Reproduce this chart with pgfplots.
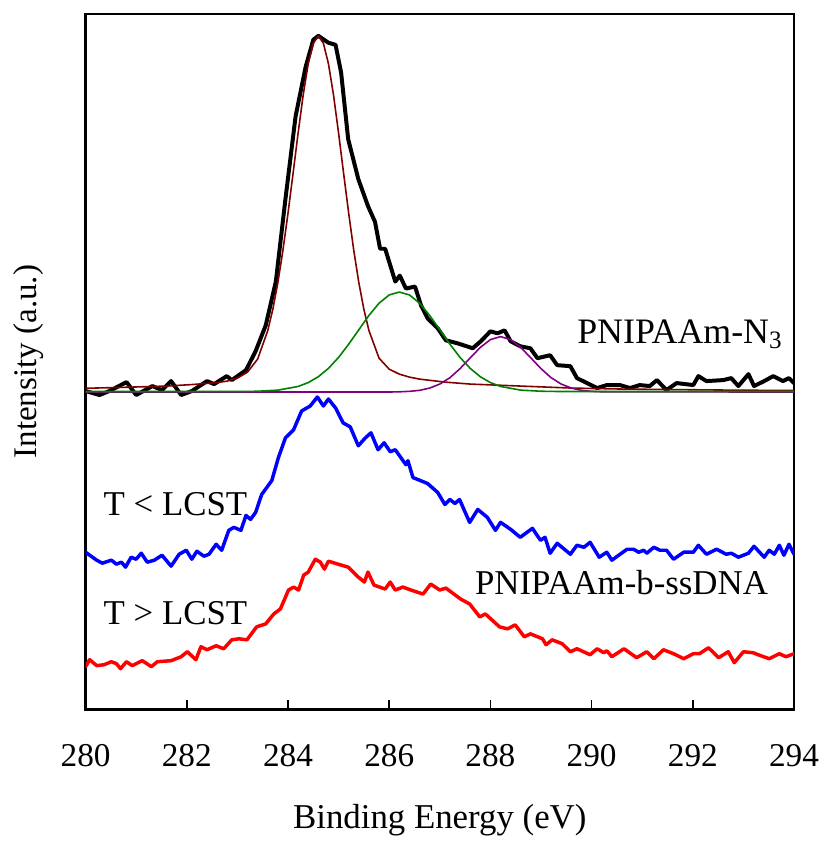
\documentclass[border=0pt]{standalone}
\usepackage{fontspec}
\setmainfont{Liberation Serif}
\usepackage{pgfplots}
\pgfplotsset{compat=1.18}
\definecolor{fitred}{RGB}{128,0,0}
\definecolor{fitgreen}{RGB}{0,128,0}
\definecolor{fitpurple}{RGB}{128,0,128}
\begin{document}
\begin{tikzpicture}
\begin{axis}[
  name=ax,
  scale only axis, width=356pt, height=349.5pt,
  xmin=280, xmax=294, ymin=0, ymax=699,
  xtick={280,282,...,294}, ytick=\empty,
  xtick pos=bottom, tick align=inside, major tick length=5pt,
  every tick/.style={black, line width=0.8pt},
  axis line style={line width=1.4pt},
  every axis plot/.append style={line join=round, line cap=round},
  /pgf/number format/assume math mode=true,
  /pgf/number format/set thousands separator={},
  xticklabel style={font=\fontsize{16.7pt}{20pt}\selectfont, yshift=-14pt},
  xlabel={Binding Energy (eV)},
  xlabel style={font=\fontsize{17.5pt}{21pt}\selectfont, at={(axis description cs:0.5,0)}, anchor=base, yshift=-60pt},
  ylabel={Intensity (a.u.)},
  ylabel style={font=\fontsize{16.6pt}{20pt}\selectfont, at={(axis description cs:0,0.5)}, anchor=base, yshift=24.5pt},
]
% PNIPAAm-N3 measured
\addplot[black, line width=2pt] coordinates {
(280.00,320)(280.275,316)(280.47,320)(280.81,329)(281.00,316)(281.32,325)(281.51,321)(281.69,330)(281.89,316)(282.10,320)(282.40,330)(282.54,327)(282.79,335)(282.89,331)(283.17,341)(283.36,360)(283.56,386)(283.76,430)(283.95,513)(284.15,596)(284.35,646)(284.50,673)(284.60,677)(284.80,670)(284.94,668)(285.05,640)(285.19,573)(285.39,533)(285.58,506)(285.72,490)(285.82,463)(285.92,463)(286.12,430)(286.21,436)(286.33,423)(286.51,425)(286.63,406)(286.76,393)(286.96,383)(287.12,371)(287.35,368)(287.65,363)(287.81,370)(288.00,380)(288.14,378)(288.28,381)(288.40,370)(288.59,365)(288.79,363)(288.93,353)(289.18,356)(289.32,346)(289.58,345)(289.71,333)(289.91,328)(290.11,323)(290.30,326)(290.56,326)(290.76,323)(290.95,326)(291.15,325)(291.29,331)(291.48,321)(291.68,328)(292.01,326)(292.11,335)(292.27,330)(292.60,331)(292.76,333)(292.90,325)(293.10,337)(293.21,325)(293.41,330)(293.59,335)(293.78,330)(293.90,333)(294.00,328)
};
% fitted components
\addplot[fitred, line width=0.8pt] coordinates {
(280.0,322.8)(280.6,323.5)(281.6,325)(282.1,326.5)(282.6,328.5)(282.8,330)(283.0,333)(283.2,339)(283.4,352.1)(283.6,380.7)(283.7,402.1)(283.8,428.9)(283.9,461.4)(284.0,498.5)(284.1,538.5)(284.2,579.2)(284.3,617.4)(284.4,648.8)(284.5,669.5)(284.6,677)(284.7,669.5)(284.8,648.8)(284.9,617.4)(285.0,579.2)(285.1,538.5)(285.2,498.5)(285.3,461.4)(285.4,428.9)(285.5,402.1)(285.6,380.7)(285.8,353)(286.0,342)(286.2,337)(286.4,334)(286.6,332)(287.1,329)(287.6,327)(288.1,326)(288.6,325)(289.6,323)(290.6,322)(292.6,321)(294.0,320.5)
};
\addplot[fitpurple, line width=0.8pt] coordinates {
(280.0,319)(286.0,319)(286.2,319.25)(286.4,319.7)(286.6,320.7)(286.8,323)(287.0,327)(287.2,333.4)(287.4,342.5)(287.6,353.3)(287.8,363.8)(288.0,371.7)(288.2,374.7)(288.4,371.7)(288.6,363.8)(288.8,353.3)(289.0,342.5)(289.2,333.4)(289.4,327)(289.6,323)(289.8,320.7)(290.0,319.7)(290.2,319.25)(294.0,319)
};
\addplot[fitgreen, line width=0.8pt] coordinates {
(280.0,319.5)(283.0,319.5)(283.4,319.8)(283.8,320.9)(284.2,324.6)(284.4,328.5)(284.6,334.4)(284.8,342.8)(285.0,353.8)(285.2,367.1)(285.4,381.6)(285.6,396)(285.8,408.3)(286.0,416.6)(286.2,419.5)(286.4,416.6)(286.6,408.3)(286.8,396)(287.0,381.6)(287.2,367.1)(287.4,353.8)(287.6,342.8)(287.8,334.4)(288.0,328.5)(288.2,324.6)(288.6,320.9)(289.0,319.8)(289.4,319.5)(294.0,319.5)
};
% T < LCST
\addplot[blue, line width=1.75pt] coordinates {
(280.00,158)(280.22,150)(280.33,147)(280.51,150)(280.61,146)(280.71,148)(280.79,143)(280.90,153)(281.00,151)(281.10,157)(281.22,148)(281.36,150)(281.51,155)(281.69,144)(281.85,156)(281.99,160)(282.10,151)(282.20,159)(282.34,154)(282.44,156)(282.58,166)(282.69,160)(282.83,180)(282.93,183)(283.07,180)(283.17,195)(283.26,191)(283.36,198)(283.48,216)(283.68,230)(283.81,253)(283.95,273)(284.11,281)(284.27,300)(284.44,305)(284.58,314)(284.70,305)(284.80,312)(284.94,303)(285.09,288)(285.23,284)(285.39,265)(285.53,273)(285.64,278)(285.78,261)(285.90,268)(286.02,259)(286.12,261)(286.33,246)(286.37,250)(286.47,233)(286.57,231)(286.76,227)(286.96,218)(287.10,206)(287.20,211)(287.30,207)(287.39,211)(287.59,188)(287.75,201)(287.94,193)(288.10,180)(288.20,188)(288.40,181)(288.59,173)(288.83,182)(288.99,170)(289.08,173)(289.18,157)(289.32,167)(289.58,156)(289.71,165)(289.85,163)(289.97,168)(290.15,153)(290.30,158)(290.40,150)(290.70,161)(290.83,161)(290.93,158)(291.03,160)(291.09,157)(291.23,163)(291.35,160)(291.48,160)(291.62,151)(291.82,158)(292.01,158)(292.11,165)(292.27,156)(292.47,161)(292.66,156)(292.76,157)(292.90,153)(293.10,157)(293.21,164)(293.41,153)(293.51,160)(293.61,156)(293.71,165)(293.80,155)(293.90,166)(294.00,156)
};
% T > LCST
\addplot[red, line width=1.75pt] coordinates {
(280.00,43)(280.08,50)(280.22,44)(280.37,45)(280.51,48)(280.61,46)(280.69,41)(280.81,48)(280.92,44)(281.12,49)(281.30,43)(281.42,48)(281.69,49)(281.89,53)(282.01,58)(282.18,50)(282.28,63)(282.40,60)(282.58,64)(282.73,61)(282.89,70)(283.03,71)(283.19,70)(283.38,83)(283.56,86)(283.72,96)(283.85,101)(284.01,120)(284.11,123)(284.21,120)(284.31,135)(284.40,138)(284.54,151)(284.64,148)(284.72,141)(284.80,149)(284.99,146)(285.19,143)(285.39,133)(285.51,128)(285.58,138)(285.70,125)(285.92,121)(286.02,128)(286.12,120)(286.27,123)(286.43,120)(286.67,116)(286.82,126)(287.00,120)(287.12,122)(287.41,111)(287.59,106)(287.79,93)(287.90,96)(288.18,83)(288.34,81)(288.49,85)(288.67,73)(288.79,76)(289.03,71)(289.10,65)(289.22,70)(289.42,66)(289.58,58)(289.71,61)(289.97,55)(290.11,61)(290.24,57)(290.30,59)(290.40,53)(290.64,61)(290.89,52)(291.09,58)(291.23,51)(291.42,60)(291.62,56)(291.82,51)(292.01,56)(292.13,56)(292.31,62)(292.51,52)(292.70,58)(292.82,47)(293.00,58)(293.19,57)(293.29,55)(293.51,51)(293.71,56)(293.84,53)(294.00,56)
};
\node[anchor=base west, font=\fontsize{18pt}{22pt}\selectfont, inner sep=0pt] at (axis cs:289.71,368) {PNIPAAm-N\textsubscript{3}};
\node[anchor=base west, font=\fontsize{17.5pt}{21pt}\selectfont, inner sep=0pt] at (axis cs:280.35,195) {T < LCST};
\node[anchor=base west, font=\fontsize{17.5pt}{21pt}\selectfont, inner sep=0pt] at (axis cs:280.35,85) {T > LCST};
\node[anchor=base west, font=\fontsize{17.5pt}{21pt}\selectfont, inner sep=0pt] at (axis cs:287.69,116) {PNIPAAm-b-ssDNA};
\end{axis}
\path ([shift={(-43pt,-65pt)}]ax.south west) rectangle ([shift={(15.5pt,7pt)}]ax.north east);
\end{tikzpicture}
\end{document}
